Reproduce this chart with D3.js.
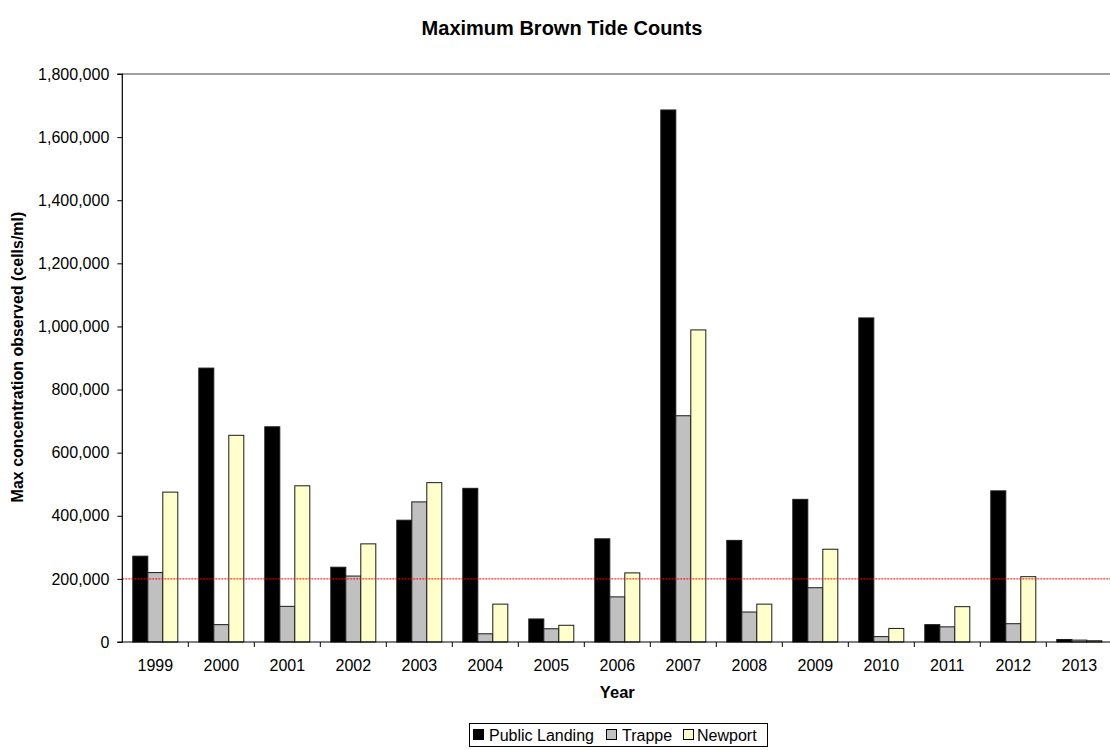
<!DOCTYPE html>
<html><head><meta charset="utf-8">
<script src="https://cdn.jsdelivr.net/npm/d3@7"></script>
<style>body{margin:0;background:#fff}svg{display:block;font-family:"Liberation Sans",Arial,sans-serif}</style>
</head><body>
<script>
const years = ["1999","2000","2001","2002","2003","2004","2005","2006","2007","2008","2009","2010","2011","2012","2013"];
const seriesNames = ["Public Landing","Trappe","Newport"];
const publicLanding = [272000,868000,682000,237000,386000,487000,73000,327000,1686000,322000,452000,1027000,55000,479000,8000];
const trappe = [220000,55000,113000,209000,444000,26000,42000,143000,717000,95000,172000,17000,48000,58000,6000];
const newport = [475000,655000,495000,311000,505000,120000,53000,219000,989000,120000,294000,43000,112000,207000,4000];
const yTicks = [0,200000,400000,600000,800000,1000000,1200000,1400000,1600000,1800000];
const threshold = 200000;
const colors = ["#000000","#C0C0C0","#FFFFCC"];

(function(){
const W=1110,H=750;
const pL=122.3,pR=1112.3,pT=74,pB=642;
const FF="Liberation Sans, Arial, sans-serif";
const svg=d3.select("body").append("svg").attr("width",W).attr("height",H);

const x=d3.scaleBand().domain(years).range([pL,pR]).paddingInner(0).paddingOuter(0);
const y=d3.scaleLinear().domain([0,1800000]).range([pB,pT]);
const barW=15;
const x1=d3.scaleBand().domain(seriesNames).range([0,barW*3]);

svg.append("line").attr("x1",pL).attr("x2",W).attr("y1",pT).attr("y2",pT)
  .attr("stroke","#808080").attr("stroke-width",1.5);

const data=[publicLanding,trappe,newport];
years.forEach((yr,i)=>{
  const g=svg.append("g").attr("transform",`translate(${x(yr)+(x.bandwidth()-barW*3)/2},0)`);
  seriesNames.forEach((s,j)=>{
    const v=data[j][i];
    g.append("rect").attr("x",x1(s)).attr("y",y(v)).attr("width",barW)
      .attr("height",pB-y(v)).attr("fill",colors[j])
      .attr("stroke","#1a1a1a").attr("stroke-width",1);
  });
});

svg.append("line").attr("x1",pL).attr("x2",W).attr("y1",y(threshold)).attr("y2",y(threshold))
  .attr("stroke","#ff0000").attr("stroke-width",1).attr("stroke-dasharray","2,1");

const yAxis=d3.axisLeft(y).tickValues(yTicks).tickSize(5).tickPadding(8).tickFormat(d3.format(","));
const ya=svg.append("g").attr("transform",`translate(${pL},0)`).call(yAxis);
ya.select(".domain").attr("stroke","#000").attr("stroke-width",1.2).attr("d",`M-5,${pB}H0V${pT}H-5`);
ya.selectAll("line").attr("stroke","#000");
ya.selectAll("text").attr("font-size",16).attr("fill","#000").attr("font-family",FF);

const xAxis=d3.axisBottom(x).tickSize(0).tickPadding(17.5);
const xa=svg.append("g").attr("transform",`translate(0,${pB})`).call(xAxis);
xa.select(".domain").attr("stroke","#000").attr("stroke-width",1.2).attr("d",`M${pL},0H${W}`);
xa.selectAll("text").attr("font-size",16).attr("fill","#000").attr("font-family",FF);
xa.selectAll(".sep").data(years.slice(1)).enter().append("line").attr("class","sep")
  .attr("x1",d=>x(d)).attr("x2",d=>x(d)).attr("y1",0).attr("y2",5).attr("stroke","#000");

svg.append("text").attr("x",562).attr("y",35).attr("text-anchor","middle")
  .attr("font-size",20).attr("font-weight","bold").text("Maximum Brown Tide Counts");
svg.append("text").attr("x",(pL+pR)/2).attr("y",698).attr("text-anchor","middle")
  .attr("font-size",16.5).attr("font-weight","bold").text("Year");
svg.append("text").attr("transform","translate(23,357) rotate(-90)").attr("text-anchor","middle")
  .attr("font-size",16).attr("font-weight","bold").text("Max concentration observed (cells/ml)");

const lg=svg.append("g");
lg.append("rect").attr("x",469.5).attr("y",723.5).attr("width",298).attr("height",23)
  .attr("fill","#fff").attr("stroke","#000").attr("stroke-width",1);
const lx=[473.5,606.5,683.5], tx=[489,622,697];
seriesNames.forEach((s,j)=>{
  lg.append("rect").attr("x",lx[j]).attr("y",729.5).attr("width",10).attr("height",10)
    .attr("fill",colors[j]).attr("stroke","#000").attr("stroke-width",1);
  lg.append("text").attr("x",tx[j]).attr("y",740.5).attr("font-size",16).text(s);
});
})();
</script>
</body></html>
